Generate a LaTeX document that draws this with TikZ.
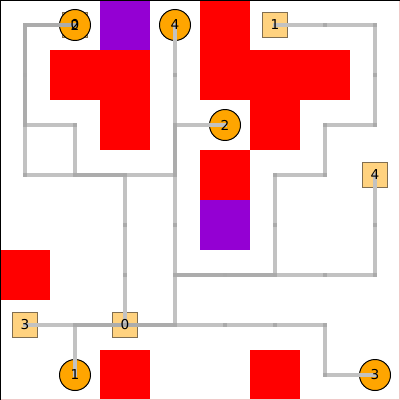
\documentclass[tikz,border=0pt]{standalone}
\usepackage{fontspec}
\setmainfont{DejaVu Sans}
\definecolor{obsred}{RGB}{255,0,0}
\definecolor{obspurple}{RGB}{148,0,211}
\definecolor{agentfill}{RGB}{255,165,0}
\definecolor{goalfill}{RGB}{255,210,127}
\definecolor{goaledge}{RGB}{128,110,80}
\definecolor{framepink}{RGB}{240,200,200}
\definecolor{trailone}{RGB}{194,194,194}
\definecolor{trailtwo}{RGB}{172,172,172}
\definecolor{trailjoint}{RGB}{170,170,170}
\tikzset{
  agent/.style={circle,draw=black,line width=0.7pt,fill=agentfill,minimum size=0.775cm,inner sep=0pt},
  goal/.style={rectangle,draw=goaledge,line width=0.6pt,fill=goalfill,minimum size=0.625cm,inner sep=0pt},
  lbl/.style={inner sep=0pt,font=\fontsize{9.7pt}{11pt}\selectfont},
  pathline/.style={draw=trailone,line width=2.3pt,line cap=rect},
  pathdouble/.style={draw=trailtwo,line width=2.3pt,line cap=rect},
  joint/.style={fill=trailjoint},
}
\newcommand{\trailsegs}[1]{%
  \foreach \ci/\cj [remember=\ci as \li (initially 0), remember=\cj as \lj (initially 0), count=\n] in #1{%
    \ifnum\n>1
      \path[pathline] ({\li*50+25},{\lj*50+25}) -- ({\ci*50+25},{\cj*50+25});
    \fi
  }%
}
\newcommand{\traildots}[1]{%
  \foreach \ci/\cj [remember=\ci as \li (initially 0), remember=\cj as \lj (initially 0), count=\n] in #1{%
    \ifnum\n>2
      \path[joint] ({\li*50+23.4},{\lj*50+23.4}) rectangle ({\li*50+26.6},{\lj*50+26.6});
    \fi
  }%
}
\begin{document}
\begin{tikzpicture}[x=0.025cm,y=-0.025cm]
\useasboundingbox (0,0) rectangle (400,400);
\fill[white] (0,0) rectangle (400,400);
% obstacles
\fill[obspurple] (100,0) rectangle (150,50);
\fill[obsred] (50,50) rectangle (150,100);
\fill[obsred] (100,100) rectangle (150,150);
\fill[obsred] (200,0) rectangle (250,50);
\fill[obsred] (200,50) rectangle (350,100);
\fill[obsred] (250,100) rectangle (300,150);
\fill[obsred] (200,150) rectangle (250,200);
\fill[obspurple] (200,200) rectangle (250,250);
\fill[obsred] (0,250) rectangle (50,300);
\fill[obsred] (100,350) rectangle (150,400);
\fill[obsred] (250,350) rectangle (300,400);
% frame
\draw[framepink,line width=0.6pt] (399.5,0) -- (399.5,399.5) -- (0,399.5);
\draw[black,line width=0.8pt] (0.5,400) -- (0.5,0.5) -- (400,0.5);
% goals
\node[goal] (g2) at (75,25) {};
\node[goal] (g1) at (275,25) {};
\node[goal] (g4) at (375,175) {};
\node[goal] (g3) at (25,325) {};
\node[goal] (g0) at (125,325) {};
% agents
\node[agent] (a0) at (75,25) {};
\node[agent] (a4) at (175,25) {};
\node[agent] (a2) at (225,125) {};
\node[agent] (a1) at (75,375) {};
\node[agent] (a3) at (375,375) {};
% trails
\def\pathA{1/0,0/0,0/1,0/2,1/2,1/3,2/3,2/4,2/5,2/6}
\def\pathB{4/2,3/2,3/3,2/3,1/3,0/3,0/2,0/1,0/0,1/0}
\def\pathC{3/0,3/1,3/2,3/3,3/4,3/5,4/5,5/5,6/5,7/5,7/4,7/3}
\def\pathD{1/7,1/6,2/6,3/6,3/5,4/5,5/5,5/4,5/3,6/3,6/2,7/2,7/1,7/0,6/0,5/0}
\def\pathE{7/7,6/7,6/6,5/6,4/6,3/6,2/6,1/6,0/6}
\trailsegs{\pathA}
\trailsegs{\pathB}
\trailsegs{\pathC}
\trailsegs{\pathD}
\trailsegs{\pathE}
% segments shared by two routes
\path[pathdouble] (75,25) -- (25,25) -- (25,125);
\path[pathdouble] (75,175) -- (125,175);
\path[pathdouble] (175,125) -- (175,175);
\path[pathdouble] (175,275) -- (275,275);
\path[pathdouble] (75,325) -- (175,325);
\traildots{\pathA}
\traildots{\pathB}
\traildots{\pathC}
\traildots{\pathD}
\traildots{\pathE}
% labels
\node[lbl] (tg2) at (g2) {2};
\node[lbl] (tg1) at (g1) {1};
\node[lbl] (tg4) at (g4) {4};
\node[lbl] (tg3) at (g3) {3};
\node[lbl] (tg0) at (g0) {0};
\node[lbl] (ta0) at (a0) {0};
\node[lbl] (ta4) at (a4) {4};
\node[lbl] (ta2) at (a2) {2};
\node[lbl] (ta1) at (a1) {1};
\node[lbl] (ta3) at (a3) {3};
\end{tikzpicture}
\end{document}
